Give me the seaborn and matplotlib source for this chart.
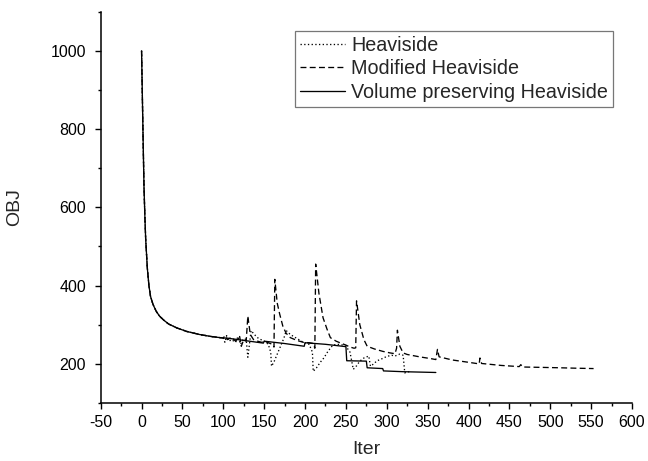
import numpy as np
import pandas as pd
import matplotlib
matplotlib.use("Agg")
import matplotlib.pyplot as plt
from matplotlib.ticker import MultipleLocator
import seaborn as sns

# ---------------- data ----------------
labels = ["Heaviside", "Modified Heaviside", "Volume preserving Heaviside"]

decay_x = [0, 1, 2, 3, 4, 5, 7, 9, 11, 14, 18, 22, 27, 33, 43, 55, 71, 85, 100]
decay_y = [1000, 880, 760, 650, 580, 520, 446, 400, 372, 352, 334, 322, 312, 302, 292, 283, 275, 270, 266]

vol_x = decay_x + [104, 125, 149, 150, 175, 199, 200, 225, 250, 251, 275, 276, 295, 296,
                   320, 340, 360]
vol_y = decay_y + [266, 260, 253, 258, 252, 245, 254, 250, 244, 208, 207, 190, 188, 182,
                   180, 179, 178]

mod_x = decay_x + [102, 105, 110, 115, 120, 122, 125, 128, 130, 133, 137, 142, 147, 150,
                   155, 160, 162, 163, 166, 169, 173, 177, 182, 190, 198, 205, 210, 212,
                   213, 217, 222, 227, 231, 238, 245, 250, 255, 260, 262, 263, 267, 272,
                   276, 285, 295, 304, 310, 312, 313, 316, 320, 325, 340, 355, 360, 362,
                   364, 380, 400, 413, 414, 416, 440, 462, 464, 466, 490, 512, 530, 553]
mod_y = decay_y + [272, 262, 268, 258, 270, 245, 262, 258, 322, 275, 262, 258, 255, 258,
                   254, 250, 243, 416, 355, 327, 295, 278, 267, 260, 255, 254, 252, 240,
                   455, 380, 318, 288, 267, 258, 252, 248, 243, 240, 241, 361, 300, 262,
                   245, 238, 232, 228, 226, 240, 286, 245, 228, 224, 218, 213, 211, 237,
                   218, 210, 204, 200, 215, 201, 196, 193, 198, 192, 191, 190, 189, 188]

hv_x = decay_x + [102, 104, 107, 110, 115, 118, 121, 125, 128, 130, 132, 134, 138, 143,
                  150, 155, 158, 159, 162, 166, 170, 174, 177, 182, 190, 198, 205, 209,
                  210, 214, 219, 223, 228, 234, 240, 246, 250, 255, 259, 263, 267, 272,
                  278, 280, 284, 288, 292, 300, 306, 310, 316, 320, 322, 326, 330]
hv_y = decay_y + [255, 272, 258, 262, 255, 270, 250, 265, 262, 217, 250, 285, 275, 265,
                  258, 250, 230, 194, 205, 225, 245, 265, 285, 275, 265, 255, 250, 230,
                  181, 190, 205, 215, 232, 248, 250, 248, 245, 230, 186, 195, 207, 215,
                  220, 194, 200, 208, 211, 219, 222, 220, 225, 222, 177, 180, 178]

# ---------------- plotting ----------------
sns.set_style("ticks")
plt.rcParams["font.family"] = ["Liberation Sans", "DejaVu Sans"]
plt.rcParams["axes.unicode_minus"] = False

fig = plt.figure(figsize=(6.48, 4.61), dpi=100)
ax = fig.add_axes([100.7 / 648, 1 - 403 / 461, (632 - 100.7) / 648, (403 - 11.7) / 461])

series = [
    (hv_x, hv_y, labels[0], (0, (1, 1.8))),
    (mod_x, mod_y, labels[1], (0, (4.5, 2.5))),
    (vol_x, vol_y, labels[2], "-"),
]
for xs, ys, lab, ls in series:
    df = pd.DataFrame({"Iter": xs, "OBJ": ys})
    sns.lineplot(data=df, x="Iter", y="OBJ", sort=False, estimator=None, ax=ax,
                 color="black", linewidth=0.95, linestyle=ls, label=lab)

ax.set_xlim(-50, 600)
ax.set_ylim(100, 1100)
ax.xaxis.set_major_locator(MultipleLocator(50))
ax.xaxis.set_minor_locator(MultipleLocator(25))
ax.yaxis.set_major_locator(MultipleLocator(200))
ax.yaxis.set_minor_locator(MultipleLocator(100))
ax.set_yticks([200, 400, 600, 800, 1000])
ax.tick_params(which="major", direction="out", length=4.5, width=1.0, labelsize=11.5,
               colors="black", pad=4)
ax.tick_params(which="minor", direction="out", length=2.5, width=1.0, colors="black")
ax.tick_params(axis="y", which="major", pad=6)
for s in ["top", "right"]:
    ax.spines[s].set_visible(False)
for s in ["left", "bottom"]:
    ax.spines[s].set_linewidth(1.1)
    ax.spines[s].set_color("black")

ax.set_xlabel("Iter", fontsize=14, labelpad=8)
ax.set_ylabel("OBJ", fontsize=14, labelpad=20)

leg = ax.legend(loc="upper right", bbox_to_anchor=((613 - 100.7) / 531.3, 1 - (31 - 11.7) / 391.3),
                borderaxespad=0, fontsize=14.2, frameon=True, fancybox=False, shadow=False,
                handlelength=2.3, handletextpad=0.3, labelspacing=0.22, borderpad=0.25)
leg.get_frame().set_edgecolor("#555555")
leg.get_frame().set_linewidth(0.9)
for line in leg.get_lines():
    line.set_linewidth(0.95)

fig.savefig("out.png", dpi=100)
